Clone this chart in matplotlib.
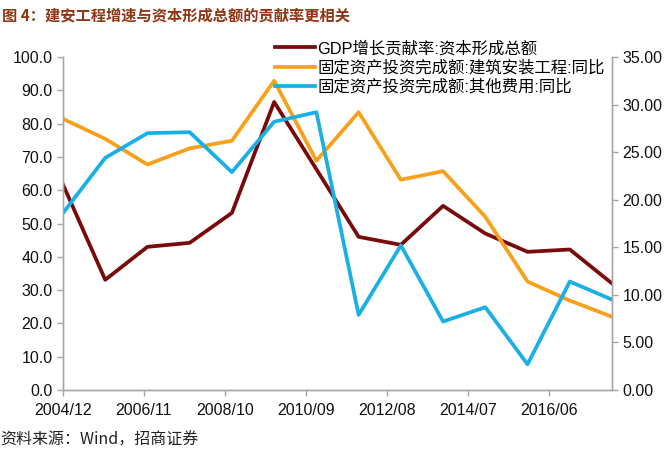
import matplotlib
matplotlib.use("Agg")
from matplotlib import pyplot as plt

plt.rcParams['font.family'] = ['Liberation Sans', 'Noto Sans CJK SC', 'DejaVu Sans']

# months since 2004/12, one point per year-end
x = [0, 12, 24, 36, 48, 60, 72, 84, 96, 108, 120, 132, 144, 156]
tick_pos = [0, 23, 46, 69, 92, 115, 138]
tick_labels = ["2004/12", "2006/11", "2008/10", "2010/09", "2012/08", "2014/07", "2016/06"]

gdp_capital = [61.7, 33.1, 43.0, 44.2, 53.2, 86.5, 66.3, 46.0, 43.6, 55.3, 47.0, 41.5, 42.2, 32.0]
construction = [28.5, 26.4, 23.7, 25.4, 26.2, 32.5, 24.1, 29.2, 22.1, 23.0, 18.2, 11.4, 9.4, 7.7]
other_cost = [18.6, 24.4, 27.0, 27.1, 22.9, 28.2, 29.2, 7.9, 15.2, 7.2, 8.7, 2.7, 11.4, 9.5]

labels = ["GDP增长贡献率:资本形成总额",
          "固定资产投资完成额:建筑安装工程:同比",
          "固定资产投资完成额:其他费用:同比"]

fig = plt.figure(figsize=(6.68, 4.5), dpi=100)
ax = fig.add_axes([0.0943, 0.1333, 0.8219, 0.74])
ax2 = ax.twinx()

l1, = ax.plot(x, gdp_capital, color="#7a0a0a", lw=2.7)
l2, = ax2.plot(x, construction, color="#f7a11a", lw=2.7)
l3, = ax2.plot(x, other_cost, color="#1aafe6", lw=2.7)

ax.set_xlim(0, 156)
ax.set_ylim(0, 100)
ax2.set_ylim(0, 35)
ax.set_yticks(range(0, 101, 10))
ax.set_yticklabels(["%.1f" % v for v in range(0, 101, 10)])
ax2.set_yticks(range(0, 36, 5))
ax2.set_yticklabels(["%.2f" % v for v in range(0, 36, 5)])
ax.set_xticks(tick_pos)
ax.set_xticklabels(tick_labels)

for a in (ax, ax2):
    for s in a.spines.values():
        s.set_color("#a6a6a6")
        s.set_linewidth(1.0)
    a.spines['top'].set_visible(False)
    a.tick_params(colors="#a6a6a6", labelcolor="#111111", labelsize=11.5, length=4, width=1)
ax.tick_params(axis='x', pad=5)

leg = fig.legend([l1, l2, l3], labels, loc="upper left", bbox_to_anchor=(0.412, 0.91),
                 frameon=False, fontsize=11.8, handlelength=2.4, handletextpad=0.15,
                 labelspacing=0.2, borderpad=0, borderaxespad=0)

fig.text(0.003, 0.965, "图 4：建安工程增速与资本形成总额的贡献率更相关",
         fontsize=11, fontweight="bold", color="#8e3614", va="center",
         family=['Noto Sans CJK SC', 'DejaVu Sans'])
fig.text(0.0, 0.022, "资料来源：Wind，招商证券", fontsize=11.5, color="#222222",
         va="center", family=['Noto Sans CJK SC', 'DejaVu Sans'])

fig.savefig("out.png", dpi=100)
